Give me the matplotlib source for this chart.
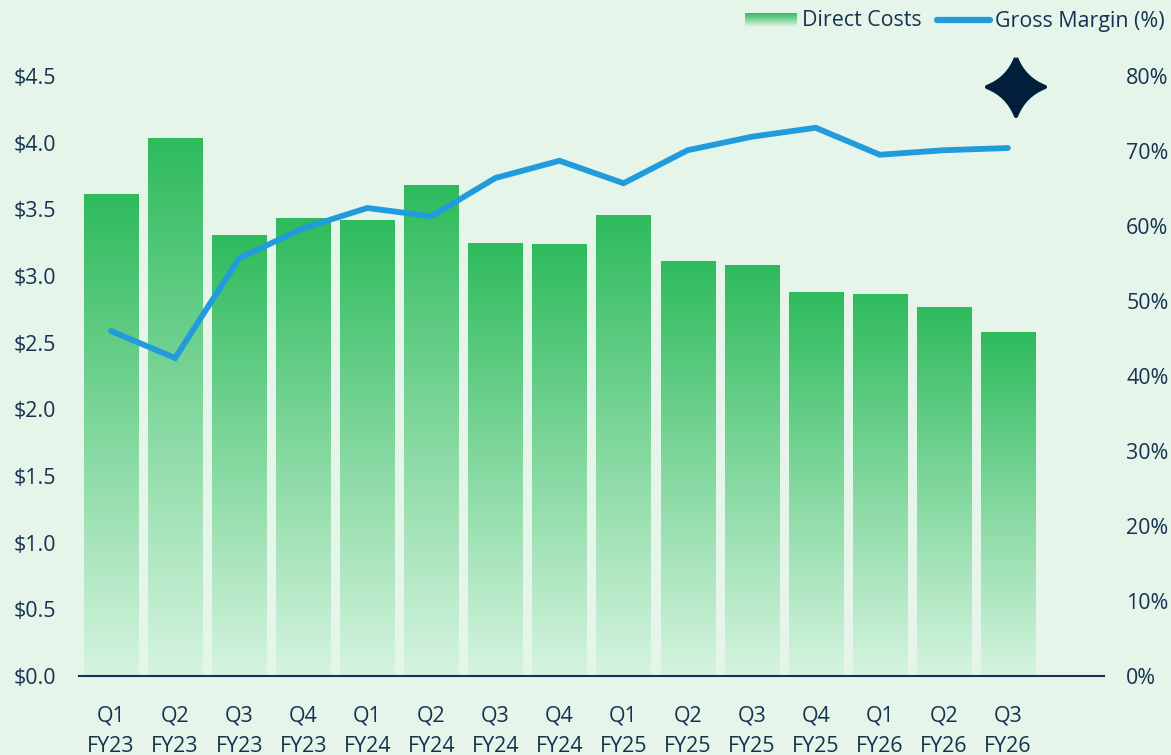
import numpy as np
import matplotlib
matplotlib.use("Agg")
import matplotlib.pyplot as plt
from matplotlib.colors import LinearSegmentedColormap
from matplotlib.lines import Line2D
from matplotlib.path import Path
from matplotlib.patches import PathPatch

quarters = ["Q1", "Q2", "Q3", "Q4", "Q1", "Q2", "Q3", "Q4", "Q1", "Q2", "Q3", "Q4", "Q1", "Q2", "Q3"]
years = ["FY23", "FY23", "FY23", "FY23", "FY24", "FY24", "FY24", "FY24", "FY25", "FY25", "FY25", "FY25", "FY26", "FY26", "FY26"]
direct_costs = [3.615, 4.035, 3.31, 3.435, 3.42, 3.68, 3.25, 3.24, 3.457, 3.11, 3.08, 2.88, 2.865, 2.77, 2.58]
gross_margin = [46.0, 42.4, 55.7, 59.7, 62.4, 61.3, 66.4, 68.7, 65.7, 70.1, 71.9, 73.1, 69.5, 70.1, 70.4]
cost_ticks = [0.0, 0.5, 1.0, 1.5, 2.0, 2.5, 3.0, 3.5, 4.0, 4.5]
margin_ticks = [0, 10, 20, 30, 40, 50, 60, 70, 80]

BG = "#E5F5EA"
TEXT = "#16324F"
NAVY = "#011E3C"
BLUE = "#229BDD"
W, H = 1171, 755

plt.rcParams["font.family"] = ["Open Sans", "Noto Sans", "DejaVu Sans"]
plt.rcParams["font.size"] = 15.4

green = LinearSegmentedColormap.from_list("bars", ["#2EBB5C", "#D6F4E0"])
gradient = np.linspace(0, 1, 256).reshape(-1, 1)

fig = plt.figure(figsize=(W / 100, H / 100), dpi=100, facecolor=BG)
ax = fig.add_axes([79 / W, 1 - 676 / H, (1104 - 79) / W, 600 / H], facecolor=BG)

# barras con degradado
x = np.arange(len(direct_costs))
bars = ax.bar(x, direct_costs, width=0.845, color="none", linewidth=0)
for b in bars:
    im = ax.imshow(gradient, cmap=green, aspect="auto", interpolation="bilinear", vmin=0, vmax=1,
                   extent=(b.get_x(), b.get_x() + b.get_width(), 0, b.get_height()), zorder=2)
    im.set_clip_path(b)

ax.set_xlim(-0.5, 15.5)
ax.set_ylim(0, 4.5)
ax.set_yticks(cost_ticks)
ax.set_yticklabels(["$%.1f" % v for v in cost_ticks], color=TEXT)
ax.set_xticks(x)
ax.set_xticklabels([q + "\n" + y for q, y in zip(quarters, years)], color=TEXT, linespacing=1.56)
ax.tick_params(axis="y", length=0, pad=16.5)
ax.tick_params(axis="x", length=0, pad=21.5)
for s in ["top", "left", "right"]:
    ax.spines[s].set_visible(False)
ax.spines["bottom"].set_color(TEXT)
ax.spines["bottom"].set_linewidth(1.5)
ax.spines["bottom"].set_zorder(3)

# margen en el eje derecho
ax2 = ax.twinx()
ax2.plot(x, gross_margin, color=BLUE, linewidth=4.2, solid_capstyle="round", solid_joinstyle="miter", zorder=5)
ax2.set_ylim(0, 80)
ax2.set_yticks(margin_ticks)
ax2.set_yticklabels(["%d%%" % v for v in margin_ticks], color=TEXT, ha="left")
ax2.tick_params(axis="y", length=0, pad=16)
for s in ax2.spines.values():
    s.set_visible(False)

# estrella
cx, cy, r, c = 1016 / W, 1 - 87 / H, 29, 0.28
dx, dy = r / W, r / H
star = Path(
    [(cx, cy + dy), (cx + c * dx, cy + c * dy), (cx + dx, cy),
     (cx + c * dx, cy - c * dy), (cx, cy - dy),
     (cx - c * dx, cy - c * dy), (cx - dx, cy),
     (cx - c * dx, cy + c * dy), (cx, cy + dy)],
    [Path.MOVETO, Path.CURVE3, Path.CURVE3, Path.CURVE3, Path.CURVE3, Path.CURVE3, Path.CURVE3, Path.CURVE3, Path.CURVE3],
)
fig.add_artist(PathPatch(star, transform=fig.transFigure, facecolor=NAVY, edgecolor=NAVY, linewidth=3, joinstyle="round"))

# leyenda a mano
swatch = fig.add_axes([745 / W, 1 - 27 / H, 52 / W, 14 / H])
swatch.imshow(gradient, cmap=LinearSegmentedColormap.from_list("sw", ["#2EBB5C", BG]), aspect="auto")
swatch.axis("off")
fig.text(802 / W, 1 - 21 / H, "Direct Costs", color=TEXT, va="center", ha="left")
fig.add_artist(Line2D([937 / W, 990 / W], [1 - 19.5 / H, 1 - 19.5 / H], transform=fig.transFigure, color=BLUE,
                      linewidth=4.5, solid_capstyle="round"))
fig.text(995 / W, 1 - 21 / H, "Gross Margin (%)", color=TEXT, va="center", ha="left")

fig.savefig("out.png", dpi=100, facecolor=BG)
